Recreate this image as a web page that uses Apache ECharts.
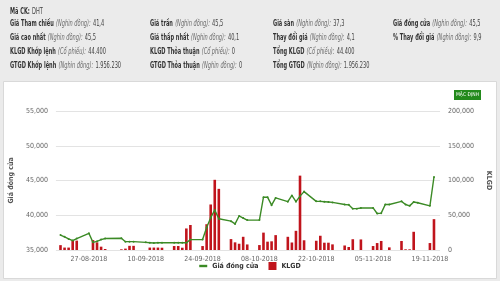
<!DOCTYPE html>
<html><head><meta charset="utf-8">
<script src="https://cdn.jsdelivr.net/npm/echarts@6/dist/echarts.min.js"></script>
<style>html,body{margin:0;padding:0;background:#ebebeb;}#c{width:500px;height:281px;}</style>
</head><body><div id="c"></div>
<script>
// ---- data ----
const dates = ['2018-08-20','2018-08-21','2018-08-22','2018-08-23','2018-08-24',
 '2018-08-27','2018-08-28','2018-08-29','2018-08-30','2018-08-31',
 '2018-09-04','2018-09-05','2018-09-06','2018-09-07',
 '2018-09-10','2018-09-11','2018-09-12','2018-09-13','2018-09-14',
 '2018-09-17','2018-09-18','2018-09-19','2018-09-20','2018-09-21',
 '2018-09-24','2018-09-25','2018-09-26','2018-09-27','2018-09-28',
 '2018-10-01','2018-10-02','2018-10-03','2018-10-04','2018-10-05',
 '2018-10-08','2018-10-09','2018-10-10','2018-10-11','2018-10-12',
 '2018-10-15','2018-10-16','2018-10-17','2018-10-18','2018-10-19',
 '2018-10-22','2018-10-23','2018-10-24','2018-10-25','2018-10-26',
 '2018-10-29','2018-10-30','2018-10-31','2018-11-01','2018-11-02',
 '2018-11-05','2018-11-06','2018-11-07','2018-11-08','2018-11-09',
 '2018-11-12','2018-11-13','2018-11-14','2018-11-15','2018-11-16',
 '2018-11-19','2018-11-20'];
const closePrice = [37150,36900,36600,36350,36650,
 37400,36100,36250,36500,36650,
 36700,36200,36200,36200,
 36100,36050,36000,36050,36050,
 36050,36050,36050,36050,36500,
 36500,38250,39650,40750,39500,
 39150,38750,39900,39600,39300,
 39300,42600,42600,41450,42500,
 41950,42850,41950,42750,43400,
 42000,42000,41950,41900,41850,
 41550,41500,40950,40950,41050,
 41050,40250,40300,41550,41550,
 42000,41550,41350,41900,41800,
 41350,45500];
const volume = [7000,3500,3500,13500,13500,
 0,14300,11000,4800,1400,
 1000,2000,6000,6000,
 0,3500,3500,3500,3300,
 5700,5700,3300,31000,36000,
 5700,37100,65500,101000,88000,
 15700,11000,9000,19000,8000,
 7100,25000,12000,12500,21400,
 19000,10800,27600,107000,14000,
 13300,20500,10500,10500,8100,
 6500,4300,15500,0,15200,
 5700,10000,13000,0,3800,
 13000,1000,1000,26200,0,
 10000,44400];
const xTickLabels = ['27-08-2018','10-09-2018','24-09-2018','08-10-2018','22-10-2018','05-11-2018','19-11-2018'];
const priceTicks = [35000,40000,45000,50000,55000];
const volTicks = [0,50000,100000,150000,200000];
const seriesNames = ['Giá đóng cửa','KLGD'];
const axisNames = ['Giá đóng cửa','KLGD'];
const stockCode = 'DHT';
const infoLabels = [
 ['Giá Tham chiếu','Giá cao nhất','KLGD Khớp lệnh','GTGD Khớp lệnh'],
 ['Giá trần','Giá thấp nhất','KLGD Thỏa thuận','GTGD Thỏa thuận'],
 ['Giá sàn','Thay đổi giá','Tổng KLGD','Tổng GTGD'],
 ['Giá đóng cửa','% Thay đổi giá']];
const infoUnits = [
 ['(Nghìn đồng):','(Nghìn đồng):','(Cổ phiếu):','(Nghìn đồng):'],
 ['(Nghìn đồng):','(Nghìn đồng):','(Cổ phiếu):','(Nghìn đồng):'],
 ['(Nghìn đồng):','(Nghìn đồng):','(Cổ phiếu):','(Nghìn đồng):'],
 ['(Nghìn đồng):','(Nghìn đồng):']];
const infoValues = [
 ['41,4','45,5','44.400','1.956.230'],
 ['45,5','40,1','0','0'],
 ['37,3','4,1','44.400','1.956.230'],
 ['45,5','9,9']];
const buttonText = 'MẶC ĐỊNH';

// ---- helpers ----
function tsISO(s){const p=s.split('-').map(Number);return Date.UTC(p[0],p[1]-1,p[2]);}
function tsDMY(s){const p=s.split('-').map(Number);return Date.UTC(p[2],p[1]-1,p[0]);}
function fmtDate(v){const d=new Date(v);const z=n=>(n<10?'0':'')+n;return z(d.getUTCDate())+'-'+z(d.getUTCMonth()+1)+'-'+d.getUTCFullYear();}
function fmtNum(v){return String(Math.round(v)).replace(/\B(?=(\d{3})+(?!\d))/g,',');}

const FONT = "'Liberation Sans Narrow','DejaVu Sans Condensed','Roboto Condensed','Liberation Sans',sans-serif";
const colX = [10,150,273,393];
const rowY = [24,38,52,66];
const SX = 0.66;
const rich = {b:{fontFamily:FONT,fontWeight:'bold',fontSize:8.5,fill:'#333'},
        i:{fontFamily:FONT,fontStyle:'italic',fontSize:8.5,fill:'#6b6b6b'},
        v:{fontFamily:FONT,fontSize:8.5,fill:'#444'}};

const graphics = [
 {type:'rect',shape:{x:3.5,y:81.5,width:493,height:197},style:{fill:'#fff',stroke:'#d9d9d9',lineWidth:1},z:-10,silent:true},
 {type:'text',x:10,y:12,scaleX:SX,style:{text:'{b|Mã CK:} {v|'+stockCode+'}',verticalAlign:'middle',rich:rich}},
 {type:'rect',shape:{x:454,y:90,width:27,height:10},style:{fill:'#238a1c'},z:5},
 {type:'text',x:467.5,y:95,style:{text:buttonText,fontFamily:FONT,fontSize:5,fill:'#fff',align:'center',verticalAlign:'middle'},z:6}
];
infoLabels.forEach((col,ci)=>{col.forEach((lab,ri)=>{
 graphics.push({type:'text',x:colX[ci],y:rowY[ri],scaleX:SX,style:{
  text:'{b|'+lab+'} {i|'+infoUnits[ci][ri]+'} {v|'+infoValues[ci][ri]+'}',
  verticalAlign:'middle',rich:rich}});
});});

const chart = echarts.init(document.getElementById('c'),null,{renderer:'canvas'});
chart.setOption({
 backgroundColor:'#ebebeb',
 animation:false,
 textStyle:{fontFamily:FONT},
 graphic:graphics,
 grid:{left:48,right:45,top:111,bottom:31,containLabel:false},
 legend:{bottom:6,left:'center',itemGap:10,itemWidth:8,itemHeight:8,
   textStyle:{fontFamily:FONT,fontSize:7,color:'#333',fontWeight:'bold'},
   data:[{name:seriesNames[0],icon:'path://M0,3.5 L10,3.5 L10,6.5 L0,6.5 Z'},{name:seriesNames[1],icon:'rect'}]},
 xAxis:{type:'value',min:Date.UTC(2018,7,18,21),max:Date.UTC(2018,10,21,12),
   axisLine:{show:false},axisTick:{show:false},splitLine:{show:false},
   axisLabel:{customValues:xTickLabels.map(tsDMY),formatter:fmtDate,fontFamily:FONT,fontSize:7,color:'#666',margin:6}},
 yAxis:[
  {type:'value',position:'left',min:priceTicks[0],max:priceTicks[priceTicks.length-1],interval:priceTicks[1]-priceTicks[0],
   name:axisNames[0],nameLocation:'middle',nameGap:31,nameTextStyle:{fontFamily:FONT,fontSize:7,color:'#555',fontWeight:'bold'},
   axisLine:{show:false},axisTick:{show:false},
   axisLabel:{formatter:fmtNum,fontFamily:FONT,fontSize:7,color:'#666',margin:8},
   splitLine:{lineStyle:{color:'#e3e3e3',width:1}}},
  {type:'value',position:'right',min:volTicks[0],max:volTicks[volTicks.length-1],interval:volTicks[1]-volTicks[0],
   name:axisNames[1],nameLocation:'middle',nameGap:33,nameRotate:-90,nameTextStyle:{fontFamily:FONT,fontSize:7,color:'#555',fontWeight:'bold'},
   axisLine:{show:false},axisTick:{show:false},
   axisLabel:{formatter:fmtNum,fontFamily:FONT,fontSize:7,color:'#666',margin:8},
   splitLine:{show:false}}
 ],
 series:[
  {name:seriesNames[1],type:'bar',yAxisIndex:1,barWidth:2.6,itemStyle:{color:'#c0141c'},
   data:dates.map((d,i)=>[tsISO(d),volume[i]])},
  {name:seriesNames[0],type:'line',yAxisIndex:0,symbol:'circle',symbolSize:2,showSymbol:true,
   itemStyle:{color:'#3b8a25'},lineStyle:{color:'#3b8a25',width:1.4},
   data:dates.map((d,i)=>[tsISO(d),closePrice[i]])}
 ]
});
</script></body></html>
